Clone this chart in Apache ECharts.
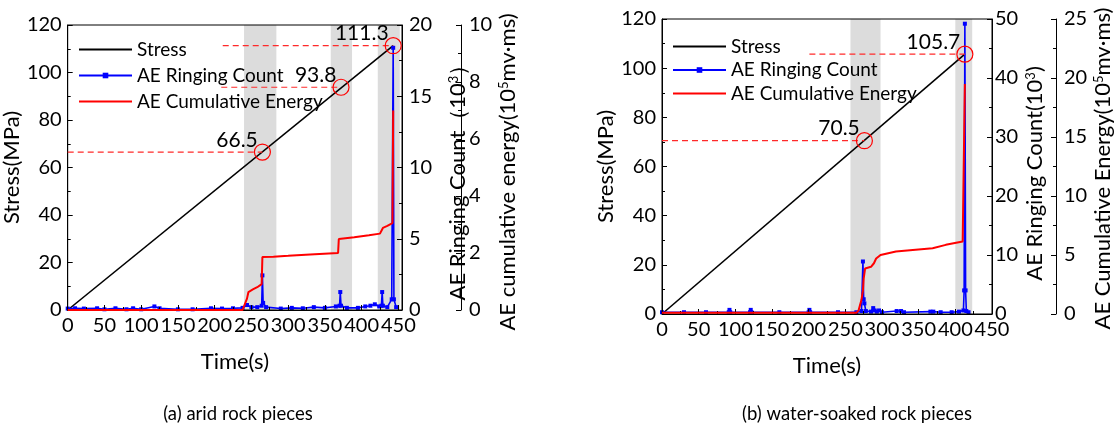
<!DOCTYPE html>
<html>
<head>
<meta charset="utf-8">
<script src="https://cdn.jsdelivr.net/npm/echarts@6/dist/echarts.min.js"></script>
<style>
  html, body { margin: 0; padding: 0; background: #fff; }
  #chart { width: 1115px; height: 433px; }
</style>
</head>
<body>
<div id="chart"></div>
<script>
const FONT = "Lato";
const TICK_SIZE = 20;
const NAME_SIZE = 22;
const legendNames = ["Stress", "AE Ringing Count", "AE Cumulative Energy"];

// (a) arid rock pieces
const leftStressT = [0, 443];
const leftStressV = [0, 111.3];
const leftRingT = [0, 10, 22, 40, 50, 65, 80, 89, 100, 118, 125, 150, 170, 195, 210, 225, 238, 244, 250, 258, 264, 265, 266, 270, 290, 305, 320, 335, 350, 365, 370, 371, 372, 380, 395, 405, 412, 418, 424, 427, 428, 429, 435, 441, 443, 444, 447];
const leftRingV = [0.1, 0.12, 0.1, 0.12, 0.05, 0.12, 0.05, 0.12, 0.05, 0.25, 0.12, 0.05, 0.05, 0.12, 0.1, 0.12, 0.15, 0.35, 0.2, 0.2, 0.3, 2.43, 0.5, 0.2, 0.1, 0.15, 0.12, 0.2, 0.15, 0.25, 0.3, 1.26, 0.3, 0.15, 0.15, 0.25, 0.3, 0.4, 0.25, 0.3, 1.26, 0.3, 0.2, 0.75, 18.4, 0.75, 0.2];
const leftEnergyT = [0, 238, 240, 244, 246, 252, 258, 264, 265, 280, 300, 330, 368, 369, 390, 410, 425, 427, 429, 435, 442, 443];
const leftEnergyV = [0, 0, 0.05, 0.4, 0.63, 0.72, 0.8, 0.91, 1.86, 1.87, 1.9, 1.95, 2.0, 2.49, 2.55, 2.62, 2.68, 2.75, 2.88, 2.95, 3.05, 7.0];
const leftBands = [[240, 284], [358, 387], [422, 452]];
const leftMarkT = [265, 372, 443];
const leftMarkStress = [66.5, 93.8, 111.3];
const leftDashStart = [0, 209, 211];

// (b) water-soaked rock pieces
const rightStressT = [0, 413];
const rightStressV = [0, 105.7];
const rightRingT = [0, 30, 60, 91, 92, 93, 120, 121, 122, 160, 200, 201, 202, 240, 265, 272, 274, 275, 276, 278, 285, 288, 290, 293, 296, 300, 320, 326, 330, 366, 370, 380, 395, 405, 411, 412, 413, 414, 415, 418];
const rightRingV = [0.3, 0.3, 0.3, 0.3, 0.7, 0.3, 0.3, 0.7, 0.3, 0.3, 0.3, 0.7, 0.3, 0.3, 0.3, 0.5, 8.9, 2.5, 1.8, 0.5, 0.4, 1.0, 0.6, 0.4, 0.6, 0.3, 0.5, 0.5, 0.3, 0.4, 0.4, 0.3, 0.3, 0.4, 0.6, 4.0, 49.2, 4.0, 0.5, 0.3];
const rightEnergyT = [0, 265, 268, 272, 274, 275, 277, 285, 289, 292, 298, 319, 342, 369, 387, 410, 412, 413];
const rightEnergyV = [0.1, 0.1, 0.3, 1.2, 2.0, 3.0, 3.86, 4.0, 4.3, 4.7, 5.0, 5.3, 5.43, 5.57, 5.86, 6.14, 6.3, 19.5];
const rightBands = [[257, 298], [400, 423]];
const rightMarkT = [276, 413];
const rightMarkStress = [70.5, 105.7];
const rightDashStart = [0, 201];

const captions = ["(a) arid rock pieces", "(b) water-soaked rock pieces"];

const zip = (xs, ys) => xs.map((x, i) => [x, ys[i]]);

const richName = {
  n: { fontSize: NAME_SIZE, fontFamily: FONT, color: "#000" },
  s: { fontSize: 13, fontFamily: FONT, color: "#000", verticalAlign: "top" }
};

function tickLabel(margin, extra) {
  return Object.assign({ color: "#000", fontSize: TICK_SIZE, fontFamily: FONT, margin: margin }, extra);
}

function valueAxis(extra) {
  return Object.assign({
    type: "value",
    z: 5,
    splitLine: { show: false },
    axisLine: { show: true, onZero: false, lineStyle: { color: "#000", width: 1 } },
    axisTick: { show: true, inside: true, length: 5, lineStyle: { color: "#000" } },
    minorTick: { show: true, splitNumber: 2, length: 3, lineStyle: { color: "#000" } },
    axisLabel: tickLabel(6),
    nameLocation: "middle",
    nameTextStyle: { color: "#000", fontSize: NAME_SIZE, fontFamily: FONT }
  }, extra);
}

function richAxisName(shift) {
  return { rich: richName, padding: [0, shift, 0, 0] };
}

function panelSeries(idx, d) {
  const xi = idx, y0 = idx * 3;
  const list = [];
  list.push({
    type: "line", xAxisIndex: xi, yAxisIndex: y0, data: [], z: 1, silent: true,
    markArea: {
      silent: true,
      itemStyle: { color: "#dcdcdc" },
      data: d.bands.map(b => [{ xAxis: b[0] }, { xAxis: b[1] }])
    }
  });
  list.push({
    name: "Stress", type: "line", xAxisIndex: xi, yAxisIndex: y0, z: 3,
    data: zip(d.stressT, d.stressV), symbol: "none",
    lineStyle: { color: "#000", width: 1.6 }, itemStyle: { color: "#000" }
  });
  list.push({
    name: "AE Ringing Count", type: "line", xAxisIndex: xi, yAxisIndex: y0 + 1, z: 4,
    data: zip(d.ringT, d.ringV), symbol: "rect", symbolSize: 4, showSymbol: true,
    lineStyle: { color: "#0000ff", width: 1.6 }, itemStyle: { color: "#0000ff" }
  });
  list.push({
    name: "AE Cumulative Energy", type: "line", xAxisIndex: xi, yAxisIndex: y0 + 2, z: 5,
    data: zip(d.energyT, d.energyV), symbol: "none",
    lineStyle: { color: "#ff0000", width: 2 }, itemStyle: { color: "#ff0000" }
  });
  d.markT.forEach((t, i) => {
    list.push({
      type: "line", xAxisIndex: xi, yAxisIndex: y0, z: 6, silent: true,
      data: [[d.dashStart[i], d.markStress[i]], [t, d.markStress[i]]],
      symbol: "none",
      lineStyle: { color: "#ff2a2a", width: 1.2, type: [6, 4] }
    });
  });
  list.push({
    type: "scatter", xAxisIndex: xi, yAxisIndex: y0, z: 7, silent: true,
    data: zip(d.markT, d.markStress),
    symbol: "circle", symbolSize: 16,
    itemStyle: { color: "rgba(0,0,0,0)", borderColor: "#ff0000", borderWidth: 1.2, opacity: 1 },
    label: {
      show: true, position: "left", distance: 0, offset: [4, -12],
      color: "#000", opacity: 1, fontSize: 21, fontFamily: FONT,
      formatter: p => p.value[1].toFixed(1)
    }
  });
  return list;
}

function legendBox(left, top, gap) {
  return {
    data: [
      { name: legendNames[0], itemStyle: { opacity: 0 } },
      { name: legendNames[1] },
      { name: legendNames[2], itemStyle: { opacity: 0 } }
    ],
    orient: "vertical", left: left, top: top,
    itemWidth: 53, itemHeight: 7, itemGap: gap,
    textStyle: { fontSize: 19, fontFamily: FONT, color: "#000", lineHeight: 21 }
  };
}

const chart = echarts.init(document.getElementById("chart"));

const option = {
  animation: false,
  backgroundColor: "#fff",
  title: captions.map((c, i) => ({
    text: c, left: i === 0 ? 233 : 852, top: 400, textAlign: "center",
    textStyle: { fontSize: 18.5, fontWeight: "normal", color: "#000", fontFamily: FONT }
  })),
  legend: [legendBox(73, 34, 5), legendBox(667, 31, 2.5)],
  grid: [
    { left: 66, top: 25, width: 336, height: 285, show: true, borderColor: "#000", borderWidth: 1, backgroundColor: "transparent", z: 5 },
    { left: 662, top: 19, width: 331, height: 295, show: true, borderColor: "#000", borderWidth: 1, backgroundColor: "transparent", z: 5 }
  ],
  xAxis: [
    valueAxis({ gridIndex: 0, min: 0, max: 455, interval: 50, name: "Time(s)", nameGap: 41,
      axisLabel: tickLabel(6, { showMaxLabel: false }) }),
    valueAxis({ gridIndex: 1, min: 0, max: 450, interval: 50, name: "Time(s)", nameGap: 41,
      axisLabel: tickLabel(6) })
  ],
  yAxis: [
    valueAxis({ gridIndex: 0, min: 0, max: 120, interval: 20, name: "Stress(MPa)", nameGap: 34 }),
    valueAxis({ gridIndex: 0, position: "right", min: 0, max: 20, interval: 5, nameGap: 45,
      name: "{n|AE Ringing Count（10}{s|3}{n|）}",
      nameTextStyle: richAxisName(19), axisLabel: tickLabel(7) }),
    valueAxis({ gridIndex: 0, position: "right", offset: 59, min: 0, max: 10, interval: 2, nameGap: 36,
      name: "{n|AE cumulative energy(10}{s|5}{n|mv·ms)}",
      nameTextStyle: richAxisName(9), axisLabel: tickLabel(8) }),
    valueAxis({ gridIndex: 1, min: 0, max: 120, interval: 20, name: "Stress(MPa)", nameGap: 39 }),
    valueAxis({ gridIndex: 1, position: "right", min: 0, max: 50, interval: 10, nameGap: 32,
      name: "{n|AE Ringing Count(10}{s|3}{n|)}",
      nameTextStyle: richAxisName(14), axisLabel: tickLabel(3) }),
    valueAxis({ gridIndex: 1, position: "right", offset: 64, min: 0, max: 25, interval: 5, nameGap: 36,
      name: "{n|AE Cumulative Energy(10}{s|5}{n|mv·ms)}",
      nameTextStyle: richAxisName(4), axisLabel: tickLabel(8) })
  ],
  series: [].concat(
    panelSeries(0, {
      bands: leftBands, stressT: leftStressT, stressV: leftStressV,
      ringT: leftRingT, ringV: leftRingV, energyT: leftEnergyT, energyV: leftEnergyV,
      markT: leftMarkT, markStress: leftMarkStress, dashStart: leftDashStart
    }),
    panelSeries(1, {
      bands: rightBands, stressT: rightStressT, stressV: rightStressV,
      ringT: rightRingT, ringV: rightRingV, energyT: rightEnergyT, energyV: rightEnergyV,
      markT: rightMarkT, markStress: rightMarkStress, dashStart: rightDashStart
    })
  )
};

chart.setOption(option);
</script>
</body>
</html>
